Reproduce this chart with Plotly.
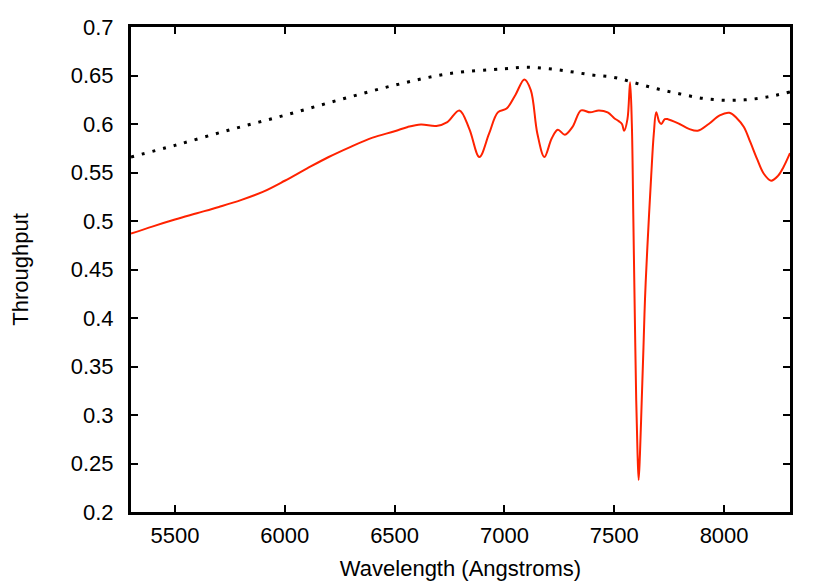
import plotly.graph_objects as go

# Measured throughput (red)
wl_meas = [5300, 5400, 5500, 5600, 5700, 5800, 5900, 6000, 6100, 6200, 6300, 6400,
           6500, 6560, 6620, 6690, 6740, 6795, 6840, 6886, 6930, 6970, 7010, 7050,
           7091, 7120, 7150, 7182, 7215, 7243, 7275, 7310, 7349, 7390, 7430, 7470,
           7500, 7520, 7535, 7545, 7560, 7572, 7580, 7587, 7593, 7600, 7606, 7611,
           7617, 7625, 7633, 7640, 7650, 7668, 7680, 7691, 7705, 7714, 7730, 7744,
           7797, 7840, 7880, 7930, 7980, 8024, 8060, 8090, 8120, 8150, 8180, 8214,
           8245, 8270, 8300]
tp_meas = [0.487, 0.4945, 0.5015, 0.508, 0.5145, 0.5215, 0.530, 0.5415, 0.554, 0.566, 0.5765, 0.586,
           0.5925, 0.597, 0.5995, 0.598, 0.602, 0.614, 0.595, 0.566, 0.590, 0.612, 0.616, 0.630,
           0.646, 0.635, 0.590, 0.566, 0.585, 0.594, 0.589, 0.597, 0.614, 0.612, 0.614, 0.612,
           0.606, 0.603, 0.600, 0.593, 0.605, 0.643, 0.600, 0.500, 0.410, 0.315, 0.260, 0.233,
           0.260, 0.315, 0.370, 0.420, 0.470, 0.546, 0.590, 0.612, 0.602, 0.600, 0.605, 0.605,
           0.600, 0.595, 0.593, 0.600, 0.609, 0.6116, 0.6055, 0.597, 0.581, 0.564, 0.549, 0.5416,
           0.5465, 0.5555, 0.570]

# Model throughput (black dotted)
wl_model = [5300, 5500, 5750, 6000, 6250, 6500, 6750, 7000, 7100, 7200, 7300, 7400,
            7500, 7600, 7700, 7800, 7900, 8000, 8100, 8200, 8300]
tp_model = [0.566, 0.578, 0.594, 0.609, 0.625, 0.640, 0.652, 0.657, 0.6585, 0.657, 0.654, 0.6505,
            0.648, 0.642, 0.636, 0.631, 0.6265, 0.6245, 0.625, 0.628, 0.633]

x_ticks = [5500, 6000, 6500, 7000, 7500, 8000]
y_ticks = [0.2, 0.25, 0.3, 0.35, 0.4, 0.45, 0.5, 0.55, 0.6, 0.65, 0.7]
y_tick_text = ["0.2", "0.25", "0.3", "0.35", "0.4", "0.45", "0.5", "0.55", "0.6", "0.65", "0.7"]

FONT = "Liberation Sans, Arial, Helvetica, sans-serif"

fig = go.Figure()
fig.add_trace(go.Scatter(x=wl_model, y=tp_model, mode="lines",
                         line=dict(color="black", width=3, dash="3px,8px", shape="spline"),
                         showlegend=False))
fig.add_trace(go.Scatter(x=wl_meas, y=tp_meas, mode="lines",
                         line=dict(color="#ff2200", width=2, shape="spline", smoothing=1.0),
                         showlegend=False))

axis_common = dict(showgrid=False, zeroline=False, showline=True, linecolor="black",
                   linewidth=3, mirror="ticks", ticks="inside", ticklen=7, tickwidth=2,
                   tickcolor="black", tickfont=dict(family=FONT, size=22, color="black"))

fig.update_xaxes(range=[5300, 8300], tickvals=x_ticks, ticklabelstandoff=2,
                 title=dict(text="Wavelength (Angstroms)", standoff=18,
                            font=dict(family=FONT, size=22, color="black")),
                 **axis_common)
fig.update_yaxes(range=[0.2, 0.7], tickvals=y_ticks, ticktext=y_tick_text, ticklabelstandoff=10,
                 title=dict(text="Throughput", standoff=39,
                            font=dict(family=FONT, size=22, color="black")),
                 **axis_common)

fig.update_layout(width=822, height=573, margin=dict(l=123, r=40, t=19, b=69, autoexpand=False),
                  paper_bgcolor="white", plot_bgcolor="white",
                  font=dict(family=FONT, size=22, color="black"))

fig.write_html("out.html")
